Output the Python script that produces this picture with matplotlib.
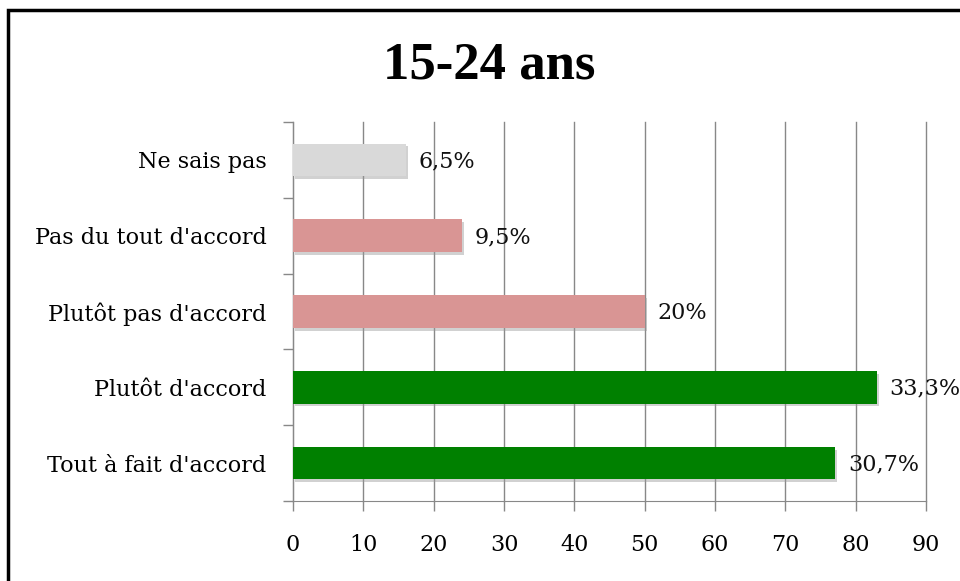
import matplotlib
matplotlib.use("Agg")
from matplotlib import pyplot as plt
from matplotlib import patheffects
from matplotlib.patches import Rectangle

# Données (du haut vers le bas)
categories = ["Ne sais pas", "Pas du tout d'accord", "Plutôt pas d'accord",
              "Plutôt d'accord", "Tout à fait d'accord"]
longueurs = [16.1, 24.0, 50.1, 83.0, 77.1]
etiquettes = ["6,5%", "9,5%", "20%", "33,3%", "30,7%"]
couleurs = ["#d9d9d9", "#d99594", "#d99594", "#008000", "#008000"]

plt.rcParams["font.family"] = ["DejaVu Serif"]

fig = plt.figure(figsize=(9.6, 5.81), dpi=100)
ax = fig.add_axes([0.3052, 0.1377, 0.6594, 0.6523])

# cadre noir (haut et gauche seulement, le reste est coupé)
fig.patches.append(Rectangle((8 / 960, -0.1), 1.2, 1 - 10 / 581 + 0.1,
                             transform=fig.transFigure, fill=False,
                             edgecolor="black", linewidth=2.5))

pos = list(range(len(categories)))[::-1]
ombre = [patheffects.SimplePatchShadow(offset=(1.5, -2), shadow_rgbFace="#999999", alpha=0.45),
         patheffects.Normal()]
barres = ax.barh(pos, longueurs, height=0.43, color=couleurs, zorder=3)
for b in barres:
    b.set_path_effects(ombre)

for p, v, t in zip(pos, longueurs, etiquettes):
    ax.annotate(t, (v, p), xytext=(9, -1), textcoords="offset points",
                va="center", ha="left", fontsize=16, color="#111111", zorder=4)

ax.set_xlim(0, 90)
ax.set_ylim(-0.5, 4.5)
ax.set_xticks(range(0, 91, 10))
ax.set_yticks(pos)
ax.set_yticklabels(categories)
ax.set_yticks([i - 0.5 for i in range(6)], minor=True)
ax.tick_params(axis="y", which="major", length=0, pad=19, labelsize=16)
ax.tick_params(axis="y", which="minor", length=7, color="#888888", width=1)
ax.tick_params(axis="x", length=7, color="#888888", width=1, pad=17, labelsize=16)
ax.grid(axis="x", color="#888888", linewidth=1, zorder=0)
for g in ax.get_xgridlines():
    g.set_clip_on(False)
for s in ["top", "right"]:
    ax.spines[s].set_visible(False)
for s in ["left", "bottom"]:
    ax.spines[s].set_color("#888888")

fig.text(0.510, 0.888, "15-24 ans", ha="center", va="center",
         fontsize=38, fontweight="bold", family="Liberation Serif")

fig.savefig("out.png", dpi=100)
